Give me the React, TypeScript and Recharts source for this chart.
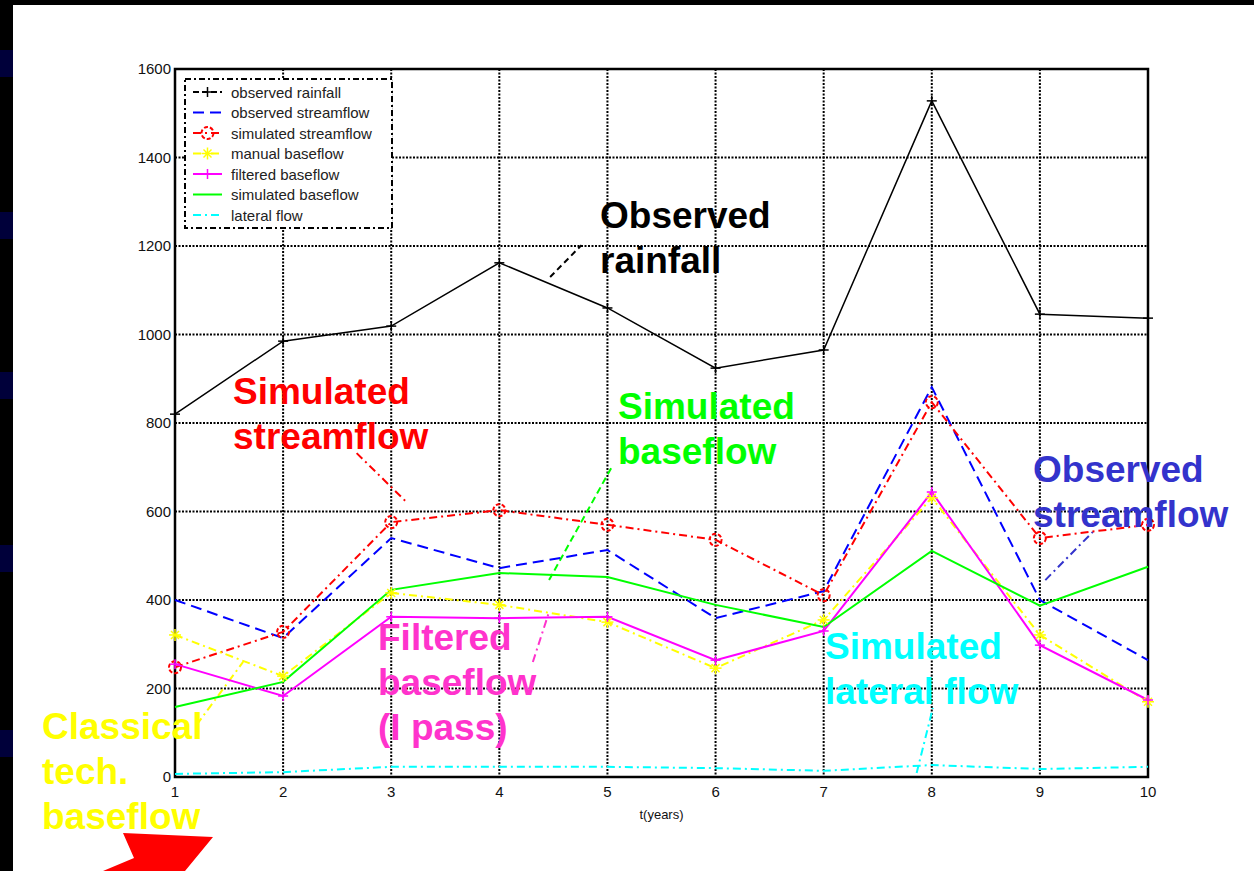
import React from 'react';
import { CartesianGrid, Label, Legend, Line, LineChart, ReferenceArea, ReferenceLine, XAxis, YAxis } from 'recharts';

// annual values
const years = [1, 2, 3, 4, 5, 6, 7, 8, 9, 10];
const observedRainfall = [820, 985, 1019, 1162, 1060, 924, 965, 1528, 1046, 1037];
const observedStreamflow = [400, 314, 540, 472, 513, 359, 420, 881, 400, 264];
const simulatedStreamflow = [248, 328, 576, 603, 570, 536, 411, 847, 540, 570];
const manualBaseflow = [321, 228, 416, 389, 350, 246, 355, 631, 321, 170];
const filteredBaseflow = [255, 183, 362, 359, 362, 264, 330, 644, 298, 174];
const simulatedBaseflow = [158, 215, 423, 461, 452, 389, 339, 511, 387, 475];
const lateralFlow = [7, 11, 23, 23, 23, 20, 14, 27, 18, 23];

const yTicks = [0, 200, 400, 600, 800, 1000, 1200, 1400, 1600];

const data = years.map((t, i) => ({
	t,
	rain: observedRainfall[i],
	obsFlow: observedStreamflow[i],
	simFlow: simulatedStreamflow[i],
	manual: manualBaseflow[i],
	filtered: filteredBaseflow[i],
	simBase: simulatedBaseflow[i],
	lateral: lateralFlow[i]
}));

type Marker = 'plus' | 'circle' | 'star' | 'none';

const series: { key: string; name: string; color: string; dash?: string; width: number; marker: Marker }[] = [
	{ key: 'rain', name: 'observed rainfall', color: '#000000', width: 1.5, marker: 'plus' },
	{ key: 'obsFlow', name: 'observed streamflow', color: '#0000FF', dash: '11 6', width: 2, marker: 'none' },
	{ key: 'simFlow', name: 'simulated streamflow', color: '#FF0000', dash: '8 4 2 4', width: 2, marker: 'circle' },
	{ key: 'manual', name: 'manual baseflow', color: '#FFFF00', dash: '8 4 2 4', width: 2, marker: 'star' },
	{ key: 'filtered', name: 'filtered baseflow', color: '#FF00FF', width: 2, marker: 'plus' },
	{ key: 'simBase', name: 'simulated baseflow', color: '#00FF00', width: 2, marker: 'none' },
	{ key: 'lateral', name: 'lateral flow', color: '#00FFFF', dash: '8 4 2 4', width: 2, marker: 'none' }
];

// callout leader lines, in data units
const pointers = [
	{ from: [4.47, 1130], to: [4.76, 1202], color: '#000000', dash: '6 4' },
	{ from: [2.68, 732], to: [3.13, 624], color: '#FF0000', dash: '8 4 2 4' },
	{ from: [4.46, 445], to: [5.05, 705], color: '#00FF00', dash: '7 4' },
	{ from: [9.05, 445], to: [9.49, 554], color: '#3333CC', dash: '8 4 2 4' },
	{ from: [4.31, 260], to: [4.46, 373], color: '#FF33CC', dash: '8 4 2 4' },
	{ from: [7.86, 9], to: [8.01, 156], color: '#00FFFF', dash: '8 4 2 4' },
	{ from: [1.2, 118], to: [1.63, 260], color: '#FFFF00', dash: '8 4 2 4' }
];

const callouts = [
	{ lines: ['Observed', 'rainfall'], color: '#000000', left: 600, top: 193 },
	{ lines: ['Simulated', 'streamflow'], color: '#FF0000', left: 233, top: 369 },
	{ lines: ['Simulated', 'baseflow'], color: '#00FF00', left: 618, top: 384 },
	{ lines: ['Observed', 'streamflow'], color: '#3333CC', left: 1033, top: 447 },
	{ lines: ['Filtered', 'baseflow', '(I pass)'], color: '#FF33CC', left: 378, top: 615 },
	{ lines: ['Simulated', 'lateral flow'], color: '#00FFFF', left: 825, top: 624 },
	{ lines: ['Classical', 'tech.', 'baseflow'], color: '#FFFF00', left: 42, top: 704 }
];

const drawMarker = (m: Marker, color: string, cx: number, cy: number, key?: string | number) => {
	if (m === 'plus')
		return (
			<g key={key}>
				<line x1={cx - 5} x2={cx + 5} y1={cy} y2={cy} stroke={color} strokeWidth={1.5} />
				<line x1={cx} x2={cx} y1={cy - 5} y2={cy + 5} stroke={color} strokeWidth={1.5} />
			</g>
		);
	if (m === 'circle')
		return (
			<circle key={key} cx={cx} cy={cy} r={6} fill='none' stroke={color} strokeWidth={2} strokeDasharray='4 2' />
		);
	if (m === 'star')
		return (
			<g key={key}>
				<line x1={cx - 6} x2={cx + 6} y1={cy} y2={cy} stroke={color} strokeWidth={1.5} />
				<line x1={cx} x2={cx} y1={cy - 6} y2={cy + 6} stroke={color} strokeWidth={1.5} />
				<line x1={cx - 4} x2={cx + 4} y1={cy - 4} y2={cy + 4} stroke={color} strokeWidth={1.5} />
				<line x1={cx - 4} x2={cx + 4} y1={cy + 4} y2={cy - 4} stroke={color} strokeWidth={1.5} />
			</g>
		);
	return null;
};

const LegendBox = () => (
	<svg width={210} height={152} style={{ display: 'block' }}>
		<rect x={1} y={1} width={207} height={149} fill='#fff' stroke='#000' strokeWidth={2} strokeDasharray='6 3 2 3' />
		{series.map((s, i) => {
			const y = 14 + i * 20.5;
			return (
				<g key={s.key}>
					<line x1={9} x2={38} y1={y} y2={y} stroke={s.color} strokeWidth={2} strokeDasharray={s.dash ?? (s.key === 'rain' ? '6 3' : undefined)} />
					{drawMarker(s.marker, s.color, 23.5, y)}
					<text x={47} y={y} dominantBaseline='central' fontSize={15} fill='#222' fontFamily='"Liberation Sans", Arial, sans-serif'>
						{s.name}
					</text>
				</g>
			);
		})}
	</svg>
);

const navyBlocks = [50, 212, 372, 545, 730];

export default function App() {
	return (
		<div style={{ position: 'absolute', left: 0, top: 0, width: 1254, height: 871, background: '#000', overflow: 'hidden' }}>
			<div style={{ position: 'absolute', left: 13, top: 5, right: 0, bottom: 0, background: '#fff' }} />
			{navyBlocks.map((y) => (
				<div key={y} style={{ position: 'absolute', left: 0, top: y, width: 13, height: 27, background: '#00003a' }} />
			))}
			<div style={{ position: 'absolute', left: 0, top: 0 }}>
				<LineChart width={1254} height={871} data={data} margin={{ top: 69, right: 106, left: 115, bottom: 64 }}>
					<CartesianGrid stroke='#000' strokeWidth={2} strokeDasharray='2 1.5' />
					<XAxis
						dataKey='t'
						type='number'
						domain={[1, 10]}
						ticks={years}
						height={30}
						axisLine={false}
						tickLine={false}
						tickSize={6}
						tickMargin={3}
						tick={{ fontSize: 15, fill: '#111', fontFamily: '"Liberation Sans", Arial, sans-serif' }}
					>
						<Label value='t(years)' position='bottom' offset={3} style={{ fontSize: 13, fill: '#111', fontFamily: '"Liberation Sans", Arial, sans-serif' }} />
					</XAxis>
					<YAxis
						type='number'
						domain={[0, 1600]}
						ticks={yTicks}
						width={60}
						axisLine={false}
						tickLine={false}
						tickSize={2}
						tickMargin={2}
						tick={{ fontSize: 15, fill: '#111', fontFamily: '"Liberation Sans", Arial, sans-serif' }}
					/>
					<ReferenceArea x1={1} x2={10} y1={0} y2={1600} fill='none' stroke='#000' strokeWidth={2.5} />
					{pointers.map((p, i) => (
						<ReferenceLine
							key={i}
							segment={[
								{ x: p.from[0], y: p.from[1] },
								{ x: p.to[0], y: p.to[1] }
							]}
							stroke={p.color}
							strokeWidth={2}
							strokeDasharray={p.dash}
						/>
					))}
					{series.map((s) => (
						<Line
							key={s.key}
							type='linear'
							dataKey={s.key}
							name={s.name}
							stroke={s.color}
							strokeWidth={s.width}
							strokeDasharray={s.dash}
							isAnimationActive={false}
							activeDot={false}
							dot={(props: any) => (props.cx == null ? <g key={`${s.key}${props.index}`} /> : drawMarker(s.marker, s.color, props.cx, props.cy, `${s.key}${props.index}`) ?? <g key={`${s.key}${props.index}`} />)}
						/>
					))}
					<Legend
						layout='horizontal'
						verticalAlign='middle'
						align='center'
						content={() => <LegendBox />}
						wrapperStyle={{ position: 'absolute', left: 184, top: 78, width: 210, height: 152, margin: 0 }}
					/>
				</LineChart>
			</div>
			{callouts.map((c) => (
				<div
					key={c.lines.join()}
					style={{
						position: 'absolute',
						left: c.left,
						top: c.top,
						color: c.color,
						fontFamily: '"Liberation Sans", Arial, sans-serif',
						fontWeight: 'bold',
						fontSize: 37,
						lineHeight: '45px',
						whiteSpace: 'pre'
					}}
				>
					{c.lines.map((l) => (
						<div key={l}>{l}</div>
					))}
				</div>
			))}
			<svg width={1254} height={871} style={{ position: 'absolute', left: 0, top: 0, pointerEvents: 'none' }}>
				<polygon points='123,833 213,837 185,871 103,871 134,858' fill='#FF0000' />
			</svg>
		</div>
	);
}
